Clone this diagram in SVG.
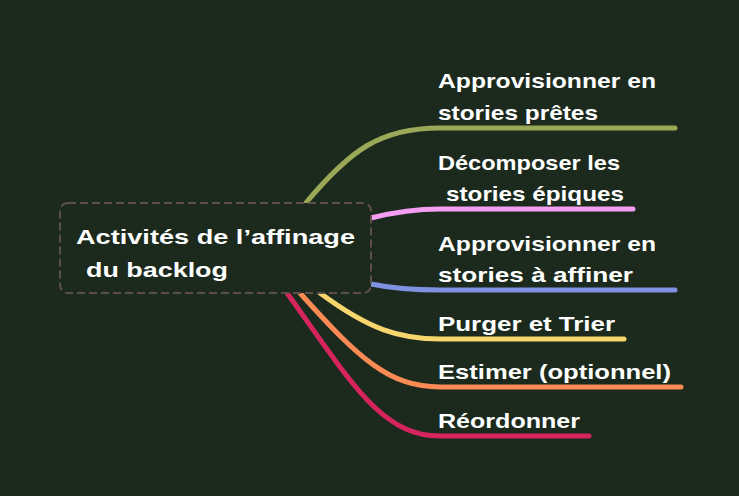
<svg xmlns="http://www.w3.org/2000/svg" width="739" height="496" viewBox="0 0 739 496">
<style>
text{font-family:"Liberation Sans","DejaVu Sans",sans-serif;font-size:21px;font-weight:bold;fill:#fff}
.c{fill:none;stroke-width:5;stroke-linecap:round}
</style>
<rect width="739" height="496" fill="#1b2a1d"/>
<g id="connectors">
<path class="c" stroke="#9aa957" d="M305,204 C350,150 380,128 440,128 L675,128"/>
<path class="c" stroke="#f59df2" d="M371,218 C395,212 415,209 440,209 L633,209"/>
<path class="c" stroke="#7f91e0" d="M371,284 C395,289 415,290 440,290 L675,290"/>
<path class="c" stroke="#f8d66e" d="M320,293 C370,330 400,339 440,339 L624,339"/>
<path class="c" stroke="#fb8a55" d="M300,293 C360,360 390,387 440,387 L681,387"/>
<path class="c" stroke="#d5245e" d="M287,293 C350,380 380,436 440,436 L589,436"/>
</g>
<g id="root">
<rect x="60" y="203" width="311" height="90" rx="8" fill="#1b2a1d" stroke="#5c4f4a" stroke-width="2" stroke-dasharray="8,4"/>
<text x="76" y="244" textLength="279" lengthAdjust="spacingAndGlyphs">Activités de l’affinage</text>
<text x="86" y="277" textLength="142" lengthAdjust="spacingAndGlyphs">du backlog</text>
</g>
<g id="n1"><text x="438" y="88" textLength="218" lengthAdjust="spacingAndGlyphs">Approvisionner en</text><text x="438" y="120" textLength="160" lengthAdjust="spacingAndGlyphs">stories prêtes</text></g>
<g id="n2"><text x="438" y="170" textLength="182" lengthAdjust="spacingAndGlyphs">Décomposer les</text><text x="446" y="201" textLength="178" lengthAdjust="spacingAndGlyphs">stories épiques</text></g>
<g id="n3"><text x="438" y="251" textLength="218" lengthAdjust="spacingAndGlyphs">Approvisionner en</text><text x="438" y="282" textLength="195" lengthAdjust="spacingAndGlyphs">stories à affiner</text></g>
<g id="n4"><text x="438" y="331" textLength="177" lengthAdjust="spacingAndGlyphs">Purger et Trier</text></g>
<g id="n5"><text x="438" y="379" textLength="233" lengthAdjust="spacingAndGlyphs">Estimer (optionnel)</text></g>
<g id="n6"><text x="438" y="428" textLength="142" lengthAdjust="spacingAndGlyphs">Réordonner</text></g>
</svg>
